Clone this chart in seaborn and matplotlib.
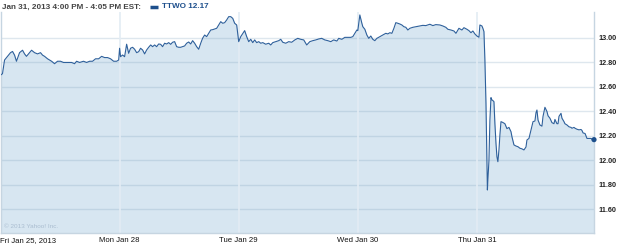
import numpy as np
import pandas as pd
import matplotlib
matplotlib.use("Agg")
import matplotlib.pyplot as plt
import seaborn as sns

# ---- data (time in trading days from Fri Jan 25 open, price in USD) ----
fri_t = [0.008, 0.017, 0.034, 0.042, 0.059, 0.084, 0.101, 0.118, 0.134, 0.160, 0.185, 0.202,
         0.218, 0.244, 0.261, 0.286, 0.311, 0.336, 0.353, 0.370, 0.395, 0.429, 0.454, 0.479,
         0.504, 0.529, 0.563, 0.597, 0.622, 0.639, 0.664, 0.697, 0.723, 0.748, 0.773, 0.798,
         0.824, 0.849, 0.874, 0.899, 0.924, 0.950, 0.975, 0.992]
fri_p = [12.70, 12.71, 12.82, 12.83, 12.85, 12.88, 12.89, 12.86, 12.81, 12.88, 12.90, 12.87,
         12.85, 12.88, 12.90, 12.88, 12.87, 12.88, 12.86, 12.85, 12.83, 12.81, 12.79, 12.81,
         12.81, 12.80, 12.80, 12.80, 12.79, 12.81, 12.80, 12.81, 12.80, 12.81, 12.81, 12.83,
         12.83, 12.85, 12.84, 12.84, 12.83, 12.81, 12.81, 12.82]

mon_t = [1.000, 1.008, 1.025, 1.042, 1.059, 1.076, 1.092, 1.109, 1.126, 1.143, 1.160, 1.176,
         1.193, 1.210, 1.227, 1.244, 1.261, 1.277, 1.294, 1.311, 1.328, 1.345, 1.361, 1.378,
         1.395, 1.412, 1.429, 1.445, 1.462, 1.479, 1.496, 1.513, 1.529, 1.546, 1.563, 1.580,
         1.597, 1.613, 1.630, 1.647, 1.664, 1.681, 1.697, 1.714, 1.731, 1.748, 1.765, 1.782,
         1.798, 1.815, 1.832, 1.849, 1.866, 1.882, 1.899, 1.916, 1.933, 1.950, 1.966, 1.983]
mon_p = [12.916, 12.847, 12.861, 12.847, 12.949, 12.875, 12.916, 12.924, 12.908, 12.880,
         12.888, 12.916, 12.902, 12.870, 12.902, 12.924, 12.943, 12.929, 12.943, 12.929,
         12.951, 12.948, 12.929, 12.957, 12.951, 12.962, 12.948, 12.965, 12.970, 12.929,
         12.924, 12.924, 12.929, 12.935, 12.957, 12.967, 12.951, 12.978, 12.957, 12.929,
         12.908, 12.957, 12.998, 13.024, 13.011, 13.038, 13.065, 13.068, 13.073, 13.079,
         13.106, 13.133, 13.120, 13.125, 13.147, 13.174, 13.174, 13.160, 13.120, 13.106]

tue_t = [2.000, 2.017, 2.050, 2.067, 2.084, 2.101, 2.118, 2.134, 2.151, 2.168, 2.185, 2.202,
         2.227, 2.252, 2.269, 2.286, 2.311, 2.336, 2.353, 2.370, 2.395, 2.420, 2.445, 2.471,
         2.496, 2.521, 2.546, 2.571, 2.597, 2.622, 2.647, 2.672, 2.697, 2.723, 2.748, 2.773,
         2.798, 2.824, 2.840, 2.866, 2.891, 2.916, 2.941, 2.958, 2.975, 2.992]
tue_p = [12.970, 13.011, 13.060, 13.011, 12.970, 12.989, 12.962, 12.984, 12.962, 12.970,
         12.957, 12.962, 12.949, 12.957, 12.943, 12.962, 12.970, 12.978, 12.989, 12.965,
         12.957, 12.970, 12.965, 12.984, 12.997, 12.989, 12.984, 12.943, 12.970, 12.978,
         12.984, 12.992, 12.997, 12.984, 12.978, 12.970, 12.984, 12.975, 12.997, 12.989,
         13.005, 13.005, 13.005, 13.011, 13.038, 13.065]

wed_t = [3.000, 3.017, 3.034, 3.042, 3.059, 3.076, 3.092, 3.109, 3.126, 3.143, 3.160, 3.185,
         3.210, 3.235, 3.252, 3.269, 3.286, 3.303, 3.319, 3.336, 3.353, 3.370, 3.387, 3.403,
         3.420, 3.437, 3.462, 3.487, 3.521, 3.546, 3.571, 3.605, 3.630, 3.655, 3.689, 3.714,
         3.739, 3.756, 3.782, 3.807, 3.824, 3.849, 3.874, 3.891, 3.916, 3.933, 3.950, 3.966,
         3.983]
wed_p = [13.060, 13.188, 13.120, 13.092, 13.071, 13.024, 12.997, 13.016, 12.989, 12.978,
         12.997, 13.011, 13.024, 13.038, 13.033, 13.043, 13.038, 13.079, 13.125, 13.120,
         13.114, 13.106, 13.092, 13.087, 13.065, 13.079, 13.087, 13.092, 13.098, 13.103,
         13.101, 13.112, 13.101, 13.109, 13.106, 13.098, 13.087, 13.071, 13.065, 13.057,
         13.038, 13.079, 13.065, 13.084, 13.071, 13.060, 13.043, 13.057, 13.033]

thu_t = [4.000, 4.017, 4.025, 4.042, 4.050, 4.059, 4.067, 4.076, 4.084, 4.088, 4.092, 4.101,
         4.109, 4.118, 4.126, 4.134, 4.143, 4.151, 4.160, 4.168, 4.176, 4.185, 4.193, 4.202,
         4.218, 4.235, 4.252, 4.269, 4.286, 4.294, 4.311, 4.328, 4.345, 4.361, 4.378, 4.395,
         4.412, 4.420, 4.437, 4.454, 4.471, 4.487, 4.496, 4.504, 4.513, 4.529, 4.546, 4.555,
         4.571, 4.588, 4.597, 4.613, 4.630, 4.647, 4.655, 4.672, 4.681, 4.689, 4.706, 4.714,
         4.731, 4.739, 4.756, 4.773, 4.790, 4.798, 4.815, 4.824, 4.840, 4.857, 4.874, 4.882,
         4.891, 4.908, 4.924, 4.941, 4.958, 4.975, 4.983]
thu_p = [13.016, 13.006, 13.106, 13.098, 13.079, 13.052, 12.820, 12.467, 12.004, 11.759,
         11.840, 12.000, 12.330, 12.513, 12.494, 12.489, 12.480, 12.300, 12.140, 12.030,
         11.990, 12.086, 12.208, 12.317, 12.310, 12.300, 12.260, 12.270, 12.235, 12.194,
         12.127, 12.118, 12.112, 12.100, 12.095, 12.086, 12.110, 12.167, 12.180, 12.249,
         12.317, 12.322, 12.390, 12.412, 12.330, 12.290, 12.280, 12.360, 12.434, 12.400,
         12.365, 12.345, 12.309, 12.300, 12.335, 12.300, 12.300, 12.360, 12.385, 12.345,
         12.317, 12.300, 12.290, 12.275, 12.270, 12.263, 12.270, 12.263, 12.255, 12.250,
         12.253, 12.245, 12.225, 12.220, 12.180, 12.180, 12.180, 12.167, 12.170]

day_positions = [0, 1, 2, 3, 4]
day_labels = ["Fri Jan 25, 2013", "Mon Jan 28", "Tue Jan 29", "Wed Jan 30", "Thu Jan 31"]
y_ticks = [11.60, 11.80, 12.00, 12.20, 12.40, 12.60, 12.80, 13.00]
header = "Jan 31, 2013 4:00 PM - 4:05 PM EST:"
symbol_label = "TTWO 12.17"
copyright_text = "\u00a9 2013 Yahoo! Inc."

# ---- build frame ----
df = pd.DataFrame({
    "t": fri_t + mon_t + tue_t + wed_t + thu_t,
    "price": fri_p + mon_p + tue_p + wed_p + thu_p,
})

sns.set_theme(style="white")
plt.rcParams["font.family"] = ["Liberation Sans", "DejaVu Sans"]

LINE = "#2e609b"
FILL = "#d7e6f1"
YMIN, YMAX = 11.408, 13.212

fig = plt.figure(figsize=(6.25, 2.47), dpi=100)
ax = fig.add_axes([0.5 / 625, 1 - 233 / 247, 593.5 / 625, 221 / 247])

ax.fill_between(df["t"], df["price"], YMIN, color=FILL, lw=0, zorder=1)
for yv in y_ticks:
    ax.axhline(yv, color="#7fa0bc", alpha=0.25, lw=1, zorder=2)
for xv in day_positions[1:]:
    ax.axvline(xv, color="#e3ecf4", lw=1.2, zorder=2)

sns.lineplot(data=df, x="t", y="price", ax=ax, color=LINE, lw=0.8,
             zorder=3, estimator=None, sort=False)
last = df.iloc[[-1]]
sns.scatterplot(data=last, x="t", y="price", ax=ax, color="#1d4f8c", s=14,
                edgecolor="none", zorder=4, clip_on=False)

ax.set_xlim(0, df["t"].iloc[-1])
ax.set_ylim(YMIN, YMAX)
ax.set_xlabel("")
ax.set_ylabel("")

ax.set_yticks(y_ticks)
ax.set_yticklabels([f"{v:.2f}" for v in y_ticks])
ax.yaxis.tick_right()
ax.tick_params(axis="y", length=0, pad=3, labelsize=5.2, labelcolor="#222222")
for lab in ax.get_yticklabels():
    lab.set_fontweight("bold")

ax.set_xticks(day_positions)
ax.set_xticklabels(day_labels)
ax.tick_params(axis="x", length=0, pad=3, labelsize=5.6, labelcolor="#111111")
ax.get_xticklabels()[0].set_horizontalalignment("left")

for side in ["left", "right", "bottom"]:
    ax.spines[side].set_visible(True)
    ax.spines[side].set_color("#c6d5e1")
    ax.spines[side].set_linewidth(1)
ax.spines["top"].set_visible(False)

ax.text(0.006, 0.02, copyright_text, transform=ax.transAxes, fontsize=4.6,
        color="#aabdd0", ha="left", va="bottom", zorder=5)

fig.text(2 / 625, 1 - 7 / 247, header, fontsize=5.9, color="#444444",
         fontweight="bold", ha="left", va="center")
fig.lines.append(plt.Line2D([150 / 625, 158 / 625], [1 - 7 / 247, 1 - 7 / 247],
                            transform=fig.transFigure, color="#1d4f8c", lw=2.5,
                            solid_capstyle="butt"))
fig.text(162 / 625, 1 - 7 / 247, symbol_label, fontsize=5.9, color="#1d4f8c",
         fontweight="bold", ha="left", va="center")

fig.savefig("out.png", dpi=100, facecolor="white")
